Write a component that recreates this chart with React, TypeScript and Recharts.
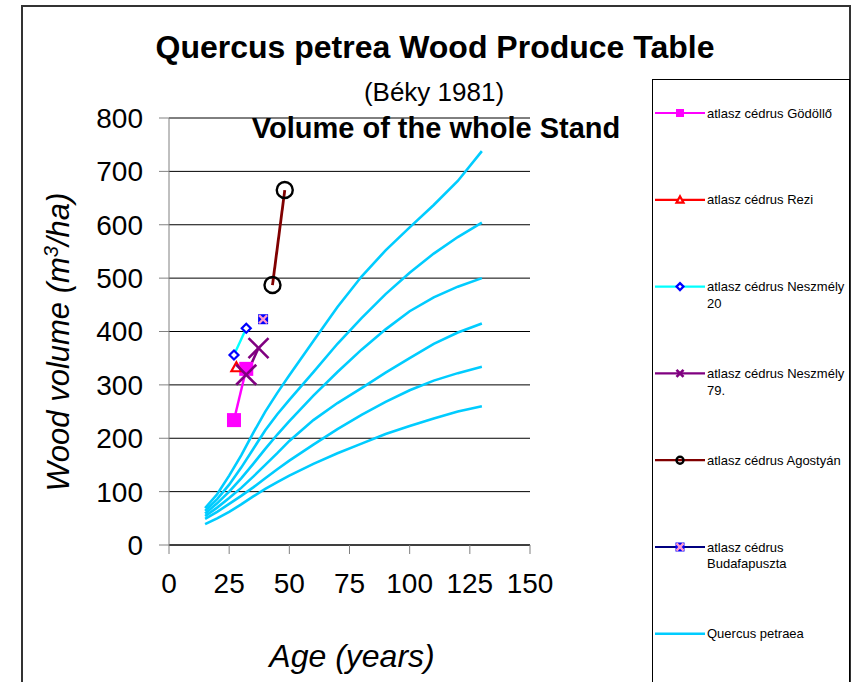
import React from 'react';
import { ComposedChart, Line, XAxis, YAxis, CartesianGrid, Legend, Customized } from 'recharts';

// ---- Data ----
const ages = [15, 20, 25, 30, 35, 40, 45, 50, 60, 70, 80, 90, 100, 110, 120, 130];
const quercus1 = [69, 95, 130, 168, 210, 250, 285, 318, 382, 446, 503, 552, 595, 637, 682, 738];
const quercus2 = [64, 86, 113, 145, 180, 215, 245, 272, 324, 377, 425, 470, 510, 546, 577, 604];
const quercus3 = [59, 78, 100, 125, 152, 180, 207, 232, 280, 324, 366, 404, 438, 464, 484, 500];
const quercus4 = [54, 70, 88, 107, 128, 150, 172, 195, 234, 266, 294, 323, 350, 377, 398, 415];
const quercus5 = [49, 62, 77, 92, 108, 125, 142, 158, 188, 217, 244, 268, 290, 308, 322, 334];
const quercus6 = [39, 50, 62, 76, 91, 105, 118, 130, 152, 172, 190, 208, 223, 237, 250, 260];

const godolloAges = [27, 32.1];
const godolloVol = [234, 330];
const reziAges = [28];
const reziVol = [333];
const neszmely20Ages = [27, 32.1];
const neszmely20Vol = [356, 406];
const neszmely79Ages = [32.1, 37.2];
const neszmely79Vol = [319, 369];
const agostyanAges = [43, 48.1];
const agostyanVol = [487, 665];
const budafapusztaAges = [39.1];
const budafapusztaVol = [423];

const xTicks = [0, 25, 50, 75, 100, 125, 150];
const yTicks = [0, 100, 200, 300, 400, 500, 600, 700, 800];

const legendNames = [
  ['atlasz cédrus Gödöllő'],
  ['atlasz cédrus Rezi'],
  ['atlasz cédrus Neszmély', '20'],
  ['atlasz cédrus Neszmély', '79.'],
  ['atlasz cédrus Agostyán'],
  ['atlasz cédrus', 'Budafapuszta'],
  ['Quercus petraea'],
];

// ---- Build tables ----
const curveData = ages.map((a, i) => ({
  age: a,
  q1: quercus1[i],
  q2: quercus2[i],
  q3: quercus3[i],
  q4: quercus4[i],
  q5: quercus5[i],
  q6: quercus6[i],
}));
const pairs = (xs: number[], ys: number[]) => xs.map((a, i) => ({ age: a, v: ys[i] }));
const godolloData = pairs(godolloAges, godolloVol);
const reziData = pairs(reziAges, reziVol);
const neszmely20Data = pairs(neszmely20Ages, neszmely20Vol);
const neszmely79Data = pairs(neszmely79Ages, neszmely79Vol);
const agostyanData = pairs(agostyanAges, agostyanVol);
const budafapusztaData = pairs(budafapusztaAges, budafapusztaVol);

const FONT = '"Liberation Sans", Arial, Helvetica, sans-serif';
const CYAN = '#00CCFF';

// ---- Marker shapes ----
type MK = (cx: number, cy: number, s: number) => React.ReactElement;
const squareMk: MK = (cx, cy, s) => <rect x={cx - s} y={cy - s} width={2 * s} height={2 * s} fill="#FF00FF" />;
const triangleMk: MK = (cx, cy, s) => (
  <polygon
    points={`${cx},${cy - s} ${cx + s},${cy + s * 0.8} ${cx - s},${cy + s * 0.8}`}
    fill="#fff"
    stroke="#FF0000"
    strokeWidth={2.2}
  />
);
const diamondMk: MK = (cx, cy, s) => (
  <polygon
    points={`${cx},${cy - s} ${cx + s},${cy} ${cx},${cy + s} ${cx - s},${cy}`}
    fill="#fff"
    stroke="#0000FF"
    strokeWidth={2.2}
  />
);
const crossMk: MK = (cx, cy, s) => (
  <g stroke="#800080" strokeWidth={2.6}>
    <line x1={cx - s} y1={cy - s} x2={cx + s} y2={cy + s} />
    <line x1={cx - s} y1={cy + s} x2={cx + s} y2={cy - s} />
  </g>
);
const circleMk: MK = (cx, cy, s) => <circle cx={cx} cy={cy} r={s} fill="none" stroke="#000" strokeWidth={2.4} />;
const budaMk: MK = (cx, cy, s) => (
  <g>
    <rect x={cx - s} y={cy - s} width={2 * s} height={2 * s} fill="#0000FF" />
    <g stroke="#FF99CC" strokeWidth={2.4}>
      <line x1={cx - s * 0.8} y1={cy - s * 0.8} x2={cx + s * 0.8} y2={cy + s * 0.8} />
      <line x1={cx - s * 0.8} y1={cy + s * 0.8} x2={cx + s * 0.8} y2={cy - s * 0.8} />
    </g>
  </g>
);

const dotOf = (mk: MK, s: number) => (p: any) => {
  const { cx, cy, index } = p;
  if (cx == null || cy == null) return <g key={`d${index}`} />;
  return <g key={`d${index}`}>{mk(cx, cy, s)}</g>;
};

const legendStyles = [
  { color: '#FF00FF', mk: squareMk, s: 4 },
  { color: '#FF0000', mk: triangleMk, s: 3.5 },
  { color: '#00FFFF', mk: diamondMk, s: 3.5 },
  { color: '#800080', mk: crossMk, s: 3.5 },
  { color: '#800000', mk: circleMk, s: 3.5 },
  { color: '#000080', mk: budaMk, s: 4.5 },
  { color: CYAN, mk: null as MK | null, s: 0 },
];

const LegendBox = () => (
  <div style={{ width: 198, height: 640, border: '1px solid #000', boxSizing: 'border-box', background: '#fff' }}>
    <svg width={196} height={638} style={{ display: 'block' }}>
      {legendNames.map((lines, i) => {
        const st = legendStyles[i];
        const y = 33 + i * 86.8;
        return (
          <g key={i}>
            <line x1={2} x2={52} y1={y} y2={y} stroke={st.color} strokeWidth={i === 6 ? 2.5 : 2.2} />
            {st.mk ? st.mk(27, y, st.s) : null}
            <text x={54} y={y + 4.5} fontFamily={FONT} fontSize={13} fill="#000">
              {lines.map((t, j) => (
                <tspan key={j} x={54} dy={j === 0 ? 0 : 16.7}>
                  {t}
                </tspan>
              ))}
            </text>
          </g>
        );
      })}
    </svg>
  </div>
);

const Titles = () => (
  <g fontFamily={FONT} fill="#000">
    <text x={435} y={58} textAnchor="middle" fontSize={32} fontWeight="bold">
      Quercus petrea Wood Produce Table
    </text>
    <text x={434} y={101} textAnchor="middle" fontSize={26}>
      (Béky 1981)
    </text>
    <text x={436} y={138} textAnchor="middle" fontSize={29} fontWeight="bold">
      Volume of the whole Stand
    </text>
    <text x={352} y={667} textAnchor="middle" fontSize={32} fontStyle="italic">
      Age (years)
    </text>
    <text
      x={69}
      y={342}
      textAnchor="middle"
      fontSize={31}
      fontStyle="italic"
      transform="rotate(-90, 69, 342)"
    >
      Wood volume (m<tspan dy={-11} fontSize={20}>3</tspan>
      <tspan dy={11}>/ha)</tspan>
    </text>
  </g>
);

export default function App() {
  return (
    <div
      style={{
        position: 'absolute',
        left: 0,
        top: 0,
        width: 856,
        height: 682,
        overflow: 'hidden',
        background: '#fff',
      }}
    >
      <div
        style={{
          position: 'absolute',
          left: 21,
          top: 5,
          width: 830,
          height: 720,
          border: '2px solid #333',
          boxSizing: 'border-box',
        }}
      />
      <div style={{ position: 'absolute', left: 0, top: 0 }}>
        <ComposedChart
          width={856}
          height={682}
          data={curveData}
          margin={{ top: 118, right: 326, bottom: 77, left: 89 }}
        >
          <CartesianGrid horizontal vertical={false} stroke="#000" strokeWidth={1} />
          <XAxis
            dataKey="age"
            type="number"
            domain={[0, 150]}
            ticks={xTicks}
            allowDataOverflow
            height={60}
            tickSize={9}
            tickMargin={19}
            axisLine={{ stroke: '#000' }}
            tickLine={{ stroke: '#808080' }}
            tick={{ fontSize: 28, fill: '#000', fontFamily: FONT }}
            interval={0}
          />
          <YAxis
            type="number"
            domain={[0, 800]}
            ticks={yTicks}
            width={80}
            tickSize={10}
            tickMargin={16}
            axisLine={{ stroke: '#808080' }}
            tickLine={{ stroke: '#808080' }}
            tick={{ fontSize: 28, fill: '#000', fontFamily: FONT }}
            interval={0}
          />
          {(['q1', 'q2', 'q3', 'q4', 'q5', 'q6'] as const).map((k) => (
            <Line
              key={k}
              dataKey={k}
              stroke={CYAN}
              strokeWidth={2.6}
              dot={false}
              activeDot={false}
              isAnimationActive={false}
              legendType="none"
              type="linear"
            />
          ))}
          <Line
            data={godolloData}
            dataKey="v"
            stroke="#FF00FF"
            strokeWidth={2.4}
            dot={dotOf(squareMk, 7)}
            activeDot={false}
            isAnimationActive={false}
            type="linear"
          />
          <Line
            data={reziData}
            dataKey="v"
            stroke="#FF0000"
            strokeWidth={2.4}
            dot={dotOf(triangleMk, 5)}
            activeDot={false}
            isAnimationActive={false}
            type="linear"
          />
          <Line
            data={neszmely20Data}
            dataKey="v"
            stroke="#00FFFF"
            strokeWidth={2.4}
            dot={dotOf(diamondMk, 4.5)}
            activeDot={false}
            isAnimationActive={false}
            type="linear"
          />
          <Line
            data={neszmely79Data}
            dataKey="v"
            stroke="#800080"
            strokeWidth={2.6}
            dot={dotOf(crossMk, 10)}
            activeDot={false}
            isAnimationActive={false}
            type="linear"
          />
          <Line
            data={agostyanData}
            dataKey="v"
            stroke="#800000"
            strokeWidth={2.8}
            dot={dotOf(circleMk, 8)}
            activeDot={false}
            isAnimationActive={false}
            type="linear"
          />
          <Line
            data={budafapusztaData}
            dataKey="v"
            stroke="#000080"
            strokeWidth={2.4}
            dot={dotOf(budaMk, 5)}
            activeDot={false}
            isAnimationActive={false}
            type="linear"
          />
          <Legend
            layout="vertical"
            align="center"
            verticalAlign="middle"
            wrapperStyle={{ left: 652, top: 79, width: 198, height: 640 }}
            content={() => <LegendBox />}
          />
          <Customized component={Titles} />
        </ComposedChart>
      </div>
    </div>
  );
}
